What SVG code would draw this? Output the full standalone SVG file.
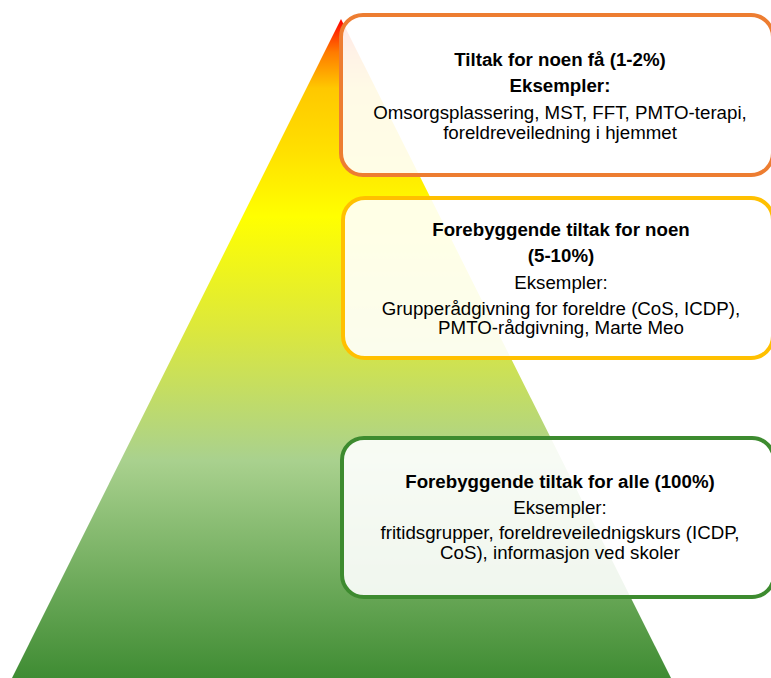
<svg xmlns="http://www.w3.org/2000/svg" width="771" height="678" viewBox="0 0 771 678">
<defs>
<linearGradient id="pyr" x1="0" y1="19" x2="0" y2="678" gradientUnits="userSpaceOnUse">
<stop offset="0" stop-color="#ff0000"/>
<stop offset="0.05" stop-color="#ff7a00"/>
<stop offset="0.105" stop-color="#ffc800"/>
<stop offset="0.2" stop-color="#ffe000"/>
<stop offset="0.3" stop-color="#ffff00"/>
<stop offset="0.47" stop-color="#dce83c"/>
<stop offset="0.67" stop-color="#a9d18e"/>
<stop offset="1" stop-color="#3f8c33"/>
</linearGradient>
<style>
.box{fill:#ffffff;fill-opacity:0.9;stroke-width:4}
.t{font-family:"Liberation Sans",Arial,sans-serif;font-size:18.7px;fill:#000;text-anchor:middle}
.b{font-weight:bold}
</style>
</defs>
<g id="pyramid">
<polygon points="341,19 12,678 671,678" fill="url(#pyr)"/>
</g>
<g id="connectors"></g>
<g id="box-top">
<rect class="box" x="341" y="15" width="432" height="160" rx="22" stroke="#ed7d31"/>
<text class="t b" x="560" y="66">Tiltak for noen få (1-2%)</text>
<text class="t b" x="560" y="92">Eksempler:</text>
<text class="t" x="560" y="119">Omsorgsplassering, MST, FFT, PMTO-terapi,</text>
<text class="t" x="560" y="139">foreldreveiledning i hjemmet</text>
</g>
<g id="box-middle">
<rect class="box" x="343" y="198" width="430" height="160" rx="22" stroke="#ffc000"/>
<text class="t b" x="561" y="236">Forebyggende tiltak for noen</text>
<text class="t b" x="561" y="262">(5-10%)</text>
<text class="t" x="561" y="289">Eksempler:</text>
<text class="t" x="561" y="315">Grupperådgivning for foreldre (CoS, ICDP),</text>
<text class="t" x="561" y="334">PMTO-rådgivning, Marte Meo</text>
</g>
<g id="box-bottom">
<rect class="box" x="342" y="438" width="432" height="159" rx="22" stroke="#3d8b2f"/>
<text class="t b" x="560" y="488">Forebyggende tiltak for alle (100%)</text>
<text class="t" x="560" y="514">Eksempler:</text>
<text class="t" x="560" y="539">fritidsgrupper, foreldreveilednigskurs (ICDP,</text>
<text class="t" x="560" y="559">CoS), informasjon ved skoler</text>
</g>
</svg>
